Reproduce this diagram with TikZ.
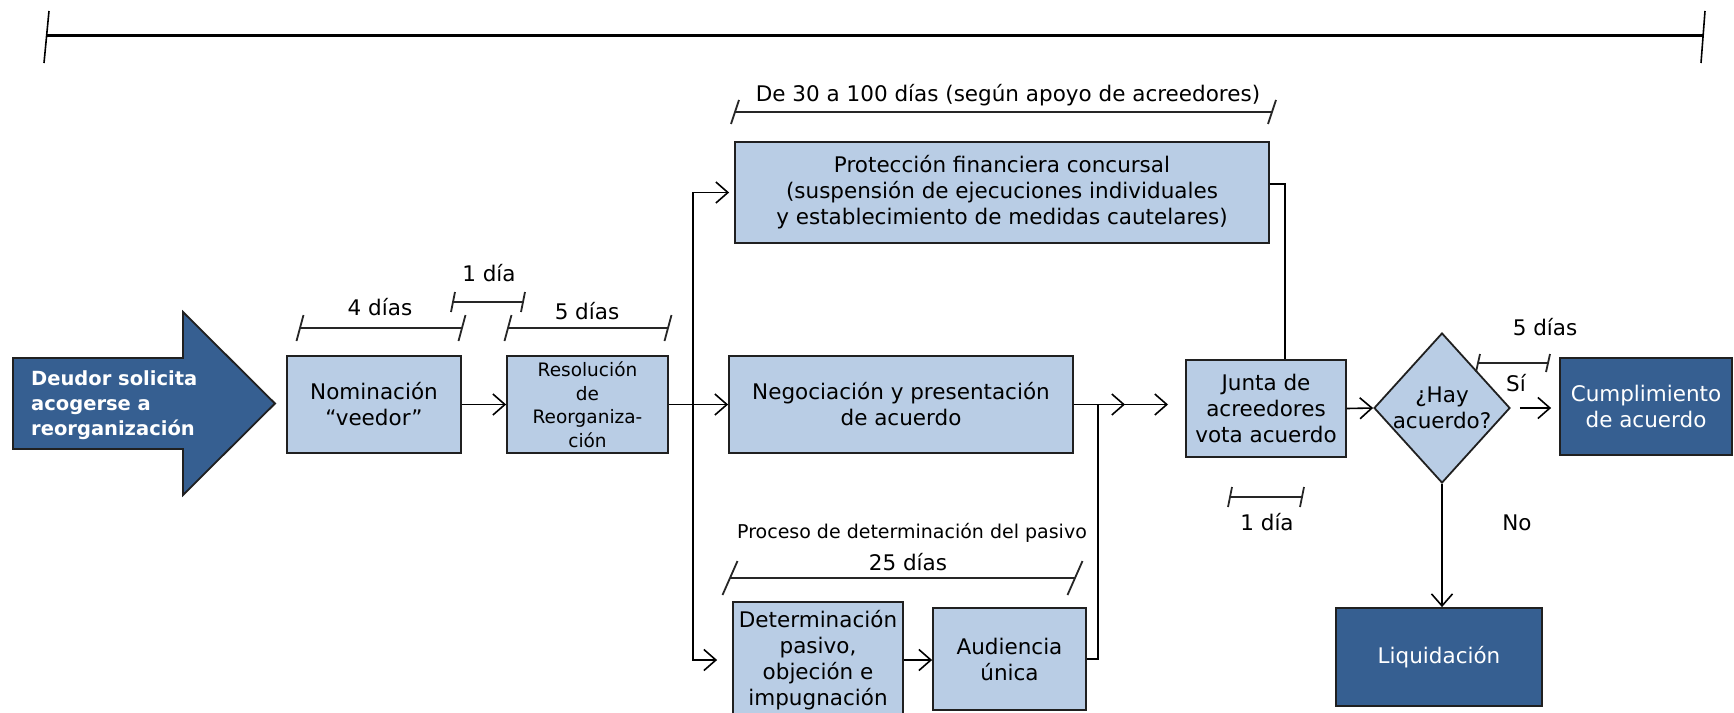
\documentclass[tikz,border=0pt]{standalone}
\usepackage{fontspec}
\setmainfont{DejaVu Sans}
\usetikzlibrary{arrows.meta,shapes.geometric,calc}
\definecolor{lightbox}{HTML}{B9CDE5}
\definecolor{darkbox}{HTML}{365F91}
\definecolor{edgecol}{HTML}{202020}
\newcommand\tlbar[5]{%
  \draw[barline] (#1,#3) -- (#2,#3);
  \draw[barline] ({#1+#5},{#3-#4}) -- ({#1-#5},{#3+#4});
  \draw[barline] ({#2+#5},{#3-#4}) -- ({#2-#5},{#3+#4});
}
\begin{document}
\begin{tikzpicture}[x=1pt,y=-1pt,
  lbox/.style={draw=edgecol,fill=lightbox,line width=1.8pt,inner sep=0pt,align=center,
    font=\fontsize{21.5pt}{26pt}\selectfont},
  dbox/.style={lbox,fill=darkbox,text=white},
  arr/.style={line width=1.6pt,draw=black,-{Straight Barb[length=12pt,width=21pt]}},
  conn/.style={line width=1.6pt,draw=black},
  barline/.style={line width=1.8pt,draw=black!85},
  lbl/.style={inner sep=0pt,font=\fontsize{21.5pt}{26pt}\selectfont,align=center},
]
\useasboundingbox (0,0) rectangle (1734,712);
\fill[white] (0,0) rectangle (1734,712);

% top timeline
\draw[line width=3pt] (46,35) -- (1703,35);
\draw[line width=1.6pt] (49,11) -- (44,63);
\draw[line width=1.6pt] (1705,11) -- (1701,63);

% big arrow
\draw[fill=darkbox,draw=edgecol,line width=1.8pt]
  (13,358) -- (183,358) -- (183,312) -- (275,403.5) -- (183,495) -- (183,449) -- (13,449) -- cycle;
\node[anchor=west,inner sep=0pt,align=left,text=white,
  font=\bfseries\fontsize{19.5pt}{25pt}\selectfont] (deudor) at (31,405)
  {Deudor solicita\\acogerse a\\reorganización};

% boxes
\node[lbox,minimum width=174pt,minimum height=97pt] (nom) at (374,404.5) {Nominación\\“veedor”};
\node[lbox,minimum width=161pt,minimum height=97pt,font=\fontsize{18.5pt}{23.5pt}\selectfont] (res) at (587.5,404.5)
  {Resolución\\de\\Reorganiza-\\ción};
\node[lbox,minimum width=534pt,minimum height=101pt] (pro) at (1002,192.5)
  {Protección financiera concursal\\(suspensión de ejecuciones individuales\\y establecimiento de medidas cautelares)};
\node[lbox,minimum width=344pt,minimum height=97pt] (neg) at (901,404.5)
  {Negociación y presentación\\de acuerdo};
\node[lbox,minimum width=170pt,minimum height=116pt] (det) at (818,660)
  {Determinación\\pasivo,\\objeción e\\impugnación};
\node[lbox,minimum width=153pt,minimum height=102pt] (aud) at (1009.5,659)
  {Audiencia\\única};
\node[lbox,minimum width=160pt,minimum height=97pt] (jun) at (1266,408.5)
  {Junta de\\acreedores\\vota acuerdo};
\node[diamond,draw=edgecol,fill=lightbox,line width=1.8pt,inner sep=0pt,
  minimum width=136pt,minimum height=150pt] (dia) at (1442,408) {};
\node[lbl] (diatext) at (dia.center) {¿Hay\\acuerdo?};
\node[dbox,minimum width=172pt,minimum height=97pt] (cum) at (1646,406.5)
  {Cumplimiento\\de acuerdo};
\node[dbox,minimum width=206pt,minimum height=98pt] (liq) at (1439,657)
  {Liquidación};

% connectors
\coordinate (tk) at (693,404.5);
\coordinate (m1) at (1125,404.5);
\coordinate (j1) at (1098,404.5);
\coordinate (m2) at (1168,404.5);
\draw[arr] (nom.east) -- (res.west);
\draw[arr] (res.east) -- (neg.west);
\draw[arr,shorten >=5pt] (tk) |- (pro.west);
\draw[arr,shorten >=15pt] (tk) |- (det.west);
\draw[arr] (neg.east) -- (m1);
\draw[arr] (det.east) -- (det.east -| aud.west);
\draw[conn] (aud.east) -| (j1);
\draw[arr] (j1) -- (m2);
\draw[conn] ([yshift=8.5pt]pro.east) -| ([xshift=19pt]jun.north);
\draw[arr] (jun.east) -- (dia.west);
\draw[arr,shorten <=9pt,shorten >=8pt] (dia.east) -- (dia.east -| cum.west);
\draw[arr] (dia.south) -- (dia.south |- liq.north);

% duration bars
\tlbar{300}{462}{328}{13}{3.5}
\node[lbl] (l4) at (380,307) {4 días};
\tlbar{453}{523}{302}{10}{2}
\node[lbl] (l1a) at (489,273) {1 día};
\tlbar{508}{668}{328}{13}{3.5}
\node[lbl] (l5a) at (587,311) {5 días};
\tlbar{735}{1272}{112}{12}{4}
\node[lbl] (l30) at (1008,95) {De 30 a 100 días (según apoyo de acreedores)};
\tlbar{730}{1075}{578}{17}{7.5}
\node[lbl,font=\fontsize{19pt}{23pt}\selectfont] (lproc) at (912,533) {Proceso de determinación del pasivo};
\node[lbl] (l25) at (908,562) {25 días};
\tlbar{1230}{1302}{497}{10}{2}
\node[lbl] (l1b) at (1267,522) {1 día};
\tlbar{1478}{1548}{363}{9}{2}
\node[lbl] (l5b) at (1545,327) {5 días};
\node[lbl] (lsi) at (1516,383) {Sí};
\node[lbl] (lno) at (1517,523) {No};
\end{tikzpicture}
\end{document}
